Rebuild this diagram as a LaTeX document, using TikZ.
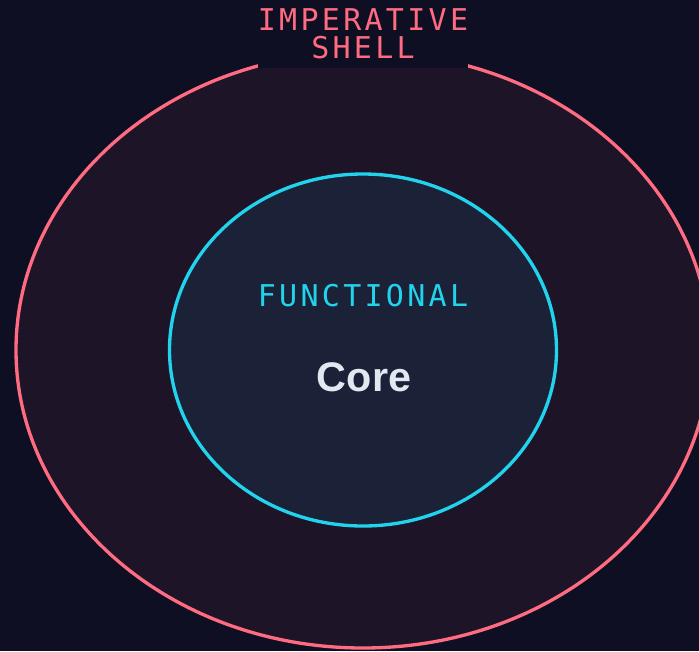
\documentclass[tikz,border=0pt]{standalone}
\usepackage{fontspec}
\usetikzlibrary{
  positioning,
  shapes.geometric,
}
\newfontfamily\monolabel[LetterSpace=11]{DejaVu Sans Mono}
\newfontfamily\corelabel{Liberation Sans}
\definecolor{pagebg}{HTML}{0E0F22}
\definecolor{shellfill}{HTML}{1D1428}
\definecolor{shellpink}{HTML}{FF6B81}
\definecolor{corefill}{HTML}{1B2136}
\definecolor{corecyan}{HTML}{22D3EE}
\definecolor{coretext}{HTML}{E2E8F0}
\tikzset{
  ring/.style={ellipse, inner sep=0pt, line width=2.5pt},
  shellring/.style={ring, draw=shellpink, fill=shellfill},
  corering/.style={ring, draw=corecyan, fill=corefill},
  tag/.style={font=\monolabel\fontsize{22.5}{21}\selectfont, inner sep=0pt, align=center},
}

\begin{document}
\begin{tikzpicture}[x=0.75pt, y=-0.75pt]
      \fill[pagebg] (0,0) rectangle (699,651);
      \useasboundingbox (0,0) rectangle (699,651);
      \clip (0,0) rectangle (699,651);

      \node[shellring, minimum width=520.5pt, minimum height=447pt] (shell) at (363,350) {};
      \node[corering, minimum width=290.25pt, minimum height=264pt] (core) at (363,350) {};

      \node[tag, text=shellpink, fill=pagebg, anchor=north,
        minimum width=156pt, minimum height=50.5pt] (shelltitle) at (363,0) {IMPERATIVE\\SHELL};
      \node[tag, text=corecyan] (coretitle) at (363,296) {FUNCTIONAL};
      \node[font=\corelabel\bfseries\fontsize{31}{36}\selectfont, text=coretext,
        anchor=base] (corename) at (364,391) {Core};
    \end{tikzpicture}
\end{document}
